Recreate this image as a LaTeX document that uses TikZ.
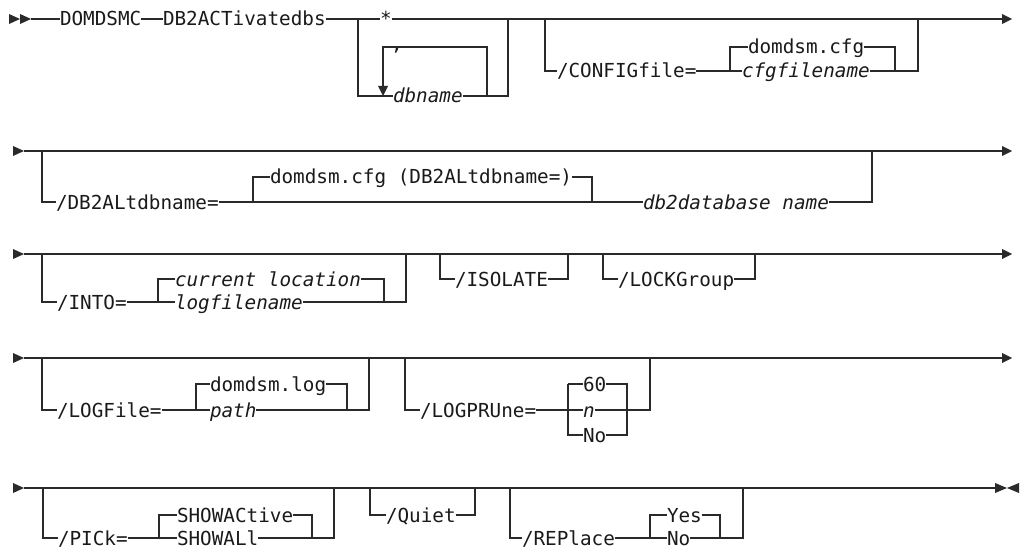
\documentclass[tikz,border=0pt]{standalone}
\usepackage{fontspec}
\newfontfamily\dmono[ItalicFont={DejaVu Sans Mono Oblique}]{DejaVu Sans Mono}
\definecolor{railc}{HTML}{2A2A2A}
\definecolor{txtc}{HTML}{1A1A1A}
\tikzset{
  rail/.style={draw=railc, line width=1.2pt},
  tip/.style={fill=railc, draw=none},
  txt/.style={anchor=west, inner sep=0pt, outer sep=0pt, text height=14pt, text depth=0pt,
              text=txtc, font=\dmono\fontsize{19.3}{20}\selectfont},
  itxt/.style={txt, font=\dmono\itshape\fontsize{19.3}{20}\selectfont},
}
\begin{document}
\begin{tikzpicture}[x=1pt, y=-1pt]
\useasboundingbox (0,0) rectangle (1022,548);
\fill[white] (0,0) rectangle (1022,548);

% ---------------- Row 1 ----------------
\fill[tip] (9,14) -- (20,19) -- (9,24) -- cycle;
\fill[tip] (20,14) -- (31,19) -- (20,24) -- cycle;
\coordinate (r1s) at (31,19);
\coordinate (r1e) at (1002,19);
\node[txt] (domdsmc) at (60,19) {DOMDSMC};
\node[txt] (db2act) at (163,19) {DB2ACTivatedbs};
\node[txt] (star) at (380,19) {*};
\node[itxt] (dbname) at (393,96) {dbname};
\node[txt] (comma) at (391,44) {,};
\node[txt] (config) at (557,71) {/CONFIGfile=};
\node[txt] (domcfg) at (748,47) {domdsm.cfg};
\node[itxt] (cfgfn) at (742,71) {cfgfilename};
\draw[rail] (r1s) -- (domdsmc.west);
\draw[rail] (domdsmc.east) -- (db2act.west);
\draw[rail] (db2act.east) -- (star.west);
\draw[rail] (star.east) -- (r1e);
\draw[rail] (358,19) -- (358,96) -- (dbname.west);
\draw[rail] (dbname.east) -- (508,96) -- (508,19);
\draw[rail] (383,86) -- (383,47) -- (487,47) -- (487,96);
\fill[tip] (378,86) -- (388,86) -- (383,96) -- cycle;
\draw[rail] (545,19) -- (545,71) -- (config.west);
\draw[rail] (config.east) -- (cfgfn.west);
\draw[rail] (730,71) -- (730,47) -- (domcfg.west);
\draw[rail] (domcfg.east) -- (895,47) -- (895,71);
\draw[rail] (cfgfn.east) -- (918,71) -- (918,19);
\fill[tip] (1002,14) -- (1012,19) -- (1002,24) -- cycle;

% ---------------- Row 2 ----------------
\fill[tip] (13,146) -- (24,151) -- (13,156) -- cycle;
\coordinate (r2s) at (24,151);
\coordinate (r2e) at (1002,151);
\draw[rail] (r2s) -- (r2e);
\fill[tip] (1002,146) -- (1012,151) -- (1002,156) -- cycle;
\node[txt] (db2alt) at (56,202) {/DB2ALtdbname=};
\node[txt] (domcfg2) at (270,177) {domdsm.cfg (DB2ALtdbname=)};
\node[itxt] (db2db) at (643,202) {db2database name};
\draw[rail] (42,151) -- (42,202) -- (db2alt.west);
\draw[rail] (db2alt.east) -- (db2db.west);
\draw[rail] (253,202) -- (253,177) -- (domcfg2.west);
\draw[rail] (domcfg2.east) -- (592,177) -- (592,202);
\draw[rail] (db2db.east) -- (872,202) -- (872,151);

% ---------------- Row 3 ----------------
\fill[tip] (13,249) -- (24,254) -- (13,259) -- cycle;
\coordinate (r3s) at (24,254);
\coordinate (r3e) at (1002,254);
\draw[rail] (r3s) -- (r3e);
\fill[tip] (1002,249) -- (1012,254) -- (1002,259) -- cycle;
\node[txt] (into) at (57,302) {/INTO=};
\node[itxt] (curloc) at (175,279) {current location};
\node[itxt] (logfn) at (175,302) {logfilename};
\node[txt] (isolate) at (455,279) {/ISOLATE};
\node[txt] (lockg) at (618,279) {/LOCKGroup};
\draw[rail] (42,254) -- (42,302) -- (into.west);
\draw[rail] (into.east) -- (logfn.west);
\draw[rail] (158,302) -- (158,279) -- (curloc.west);
\draw[rail] (curloc.east) -- (384,279) -- (384,302);
\draw[rail] (logfn.east) -- (406,302) -- (406,254);
\draw[rail] (440,254) -- (440,279) -- (isolate.west);
\draw[rail] (isolate.east) -- (568,279) -- (568,254);
\draw[rail] (603,254) -- (603,279) -- (lockg.west);
\draw[rail] (lockg.east) -- (755,279) -- (755,254);

% ---------------- Row 4 ----------------
\fill[tip] (13,353) -- (24,358) -- (13,363) -- cycle;
\coordinate (r4s) at (24,358);
\coordinate (r4e) at (1002,358);
\draw[rail] (r4s) -- (r4e);
\fill[tip] (1002,353) -- (1012,358) -- (1002,363) -- cycle;
\node[txt] (logfile) at (57,410) {/LOGFile=};
\node[txt] (domlog) at (210,384) {domdsm.log};
\node[itxt] (path) at (210,410) {path};
\node[txt] (logprune) at (420,410) {/LOGPRUne=};
\node[txt] (sixty) at (583,384) {60};
\node[itxt] (nval) at (583,410) {n};
\node[txt] (noval) at (583,435) {No};
\draw[rail] (42,358) -- (42,410) -- (logfile.west);
\draw[rail] (logfile.east) -- (path.west);
\draw[rail] (196,410) -- (196,384) -- (domlog.west);
\draw[rail] (domlog.east) -- (347,384) -- (347,410);
\draw[rail] (path.east) -- (369,410) -- (369,358);
\draw[rail] (405,358) -- (405,410) -- (logprune.west);
\draw[rail] (logprune.east) -- (nval.west);
\draw[rail] (568,384) -- (568,435) -- (noval.west);
\draw[rail] (568,384) -- (sixty.west);
\draw[rail] (sixty.east) -- (627,384) -- (627,435) -- (noval.east);
\draw[rail] (nval.east) -- (650,410) -- (650,358);

% ---------------- Row 5 ----------------
\fill[tip] (13,483) -- (24,488) -- (13,493) -- cycle;
\coordinate (r5s) at (24,488);
\coordinate (r5e) at (995,488);
\draw[rail] (r5s) -- (r5e);
\draw[draw=railc, line width=2.4pt] (749,488) -- (772,488);
\fill[tip] (995,483) -- (1007,488) -- (995,493) -- cycle;
\fill[tip] (1019,483) -- (1007,488) -- (1019,493) -- cycle;
\node[txt] (pick) at (58,538) {/PICk=};
\node[txt] (showact) at (177,515) {SHOWACtive};
\node[txt] (showall) at (177,538) {SHOWALl};
\node[txt] (quiet) at (386,515) {/Quiet};
\node[txt] (replace) at (522,538) {/REPlace};
\node[txt] (yes) at (667,515) {Yes};
\node[txt] (no5) at (667,538) {No};
\draw[rail] (43,488) -- (43,538) -- (pick.west);
\draw[rail] (pick.east) -- (showall.west);
\draw[rail] (159,538) -- (159,515) -- (showact.west);
\draw[rail] (showact.east) -- (312,515) -- (312,538);
\draw[rail] (showall.east) -- (334,538) -- (334,488);
\draw[rail] (370,488) -- (370,515) -- (quiet.west);
\draw[rail] (quiet.east) -- (475,515) -- (475,488);
\draw[rail] (510,488) -- (510,538) -- (replace.west);
\draw[rail] (replace.east) -- (no5.west);
\draw[rail] (650,538) -- (650,515) -- (yes.west);
\draw[rail] (yes.east) -- (720,515) -- (720,538);
\draw[rail] (no5.east) -- (743,538) -- (743,488);
\end{tikzpicture}
\end{document}
